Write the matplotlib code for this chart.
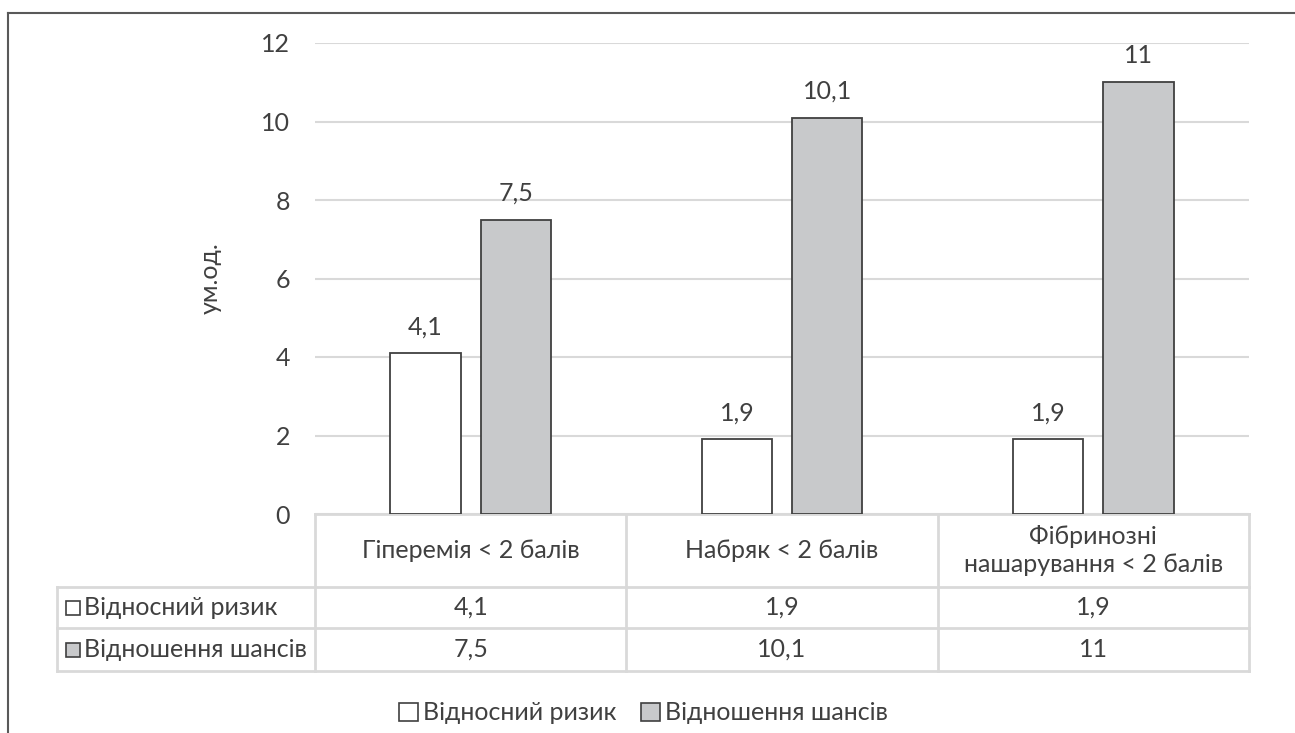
import matplotlib.pyplot as plt
from matplotlib.patches import Rectangle
from matplotlib.lines import Line2D
import numpy as np

categories = ['Гіперемія < 2 балів', 'Набряк < 2 балів', 'Фібринозні\nнашарування < 2 балів']
series_names = ['Відносний ризик', 'Відношення шансів']
rel_risk = [4.1, 1.9, 1.9]
odds_ratio = [7.5, 10.1, 11]
rel_risk_txt = ['4,1', '1,9', '1,9']
odds_ratio_txt = ['7,5', '10,1', '11']

plt.rcParams['font.family'] = ['Lato', 'DejaVu Sans']
txtcol = '#404040'
gridcol = '#d9d9d9'
graycol = '#c8c9cb'
fs = 18

fig = plt.figure(figsize=(12.95, 7.33), dpi=100)
ax = fig.add_axes([315/1295, 1-514/733, (1249-315)/1295, (514-43)/733])

x = np.arange(len(categories)) + 0.5
width = 0.225
off = 0.145
b1 = ax.bar(x - off, rel_risk, width, color='white', edgecolor=txtcol, linewidth=1.3, zorder=3)
b2 = ax.bar(x + off, odds_ratio, width, color=graycol, edgecolor=txtcol, linewidth=1.3, zorder=3)
for rect, t in zip(b1, rel_risk_txt):
    ax.annotate(t, (rect.get_x() + rect.get_width()/2, rect.get_height()), xytext=(0, 19),
                textcoords='offset points', ha='center', va='center', fontsize=fs, color=txtcol)
for rect, t in zip(b2, odds_ratio_txt):
    ax.annotate(t, (rect.get_x() + rect.get_width()/2, rect.get_height()), xytext=(0, 19),
                textcoords='offset points', ha='center', va='center', fontsize=fs, color=txtcol)

ax.set_xlim(0, 3)
ax.set_ylim(0, 12)
ax.set_yticks(np.arange(0, 13, 2))
ax.set_xticks([])
ax.yaxis.grid(True, color=gridcol, linewidth=1.5, zorder=0)
ax.tick_params(axis='y', length=0, pad=18, labelsize=fs, labelcolor=txtcol)
for s in ax.spines.values():
    s.set_visible(False)
ax.set_ylabel('ум.од.', fontsize=fs, color=txtcol, labelpad=28)

# data table under the chart
tr = ax.get_xaxis_transform()
h = 471.0  # axes height in px
rows_y = [0, -73/h, -114/h, -157/h]
left = -258/311
lk = dict(color=gridcol, linewidth=2, transform=tr, clip_on=False, zorder=1)
ax.add_line(Line2D([0, 3], [rows_y[0], rows_y[0]], **lk))
for yy in rows_y[1:]:
    ax.add_line(Line2D([left, 3], [yy, yy], **lk))
ax.add_line(Line2D([left, left], [rows_y[1], rows_y[3]], **lk))
for xx in range(4):
    ax.add_line(Line2D([xx, xx], [rows_y[0], rows_y[3]], **lk))

for i, c in enumerate(categories):
    ax.text(x[i], (rows_y[0] + rows_y[1]) / 2, c, transform=tr, ha='center', va='center',
            fontsize=fs, color=txtcol, linespacing=1.25)
    ax.text(x[i], (rows_y[1] + rows_y[2]) / 2, rel_risk_txt[i], transform=tr, ha='center',
            va='center', fontsize=fs, color=txtcol)
    ax.text(x[i], (rows_y[2] + rows_y[3]) / 2, odds_ratio_txt[i], transform=tr, ha='center',
            va='center', fontsize=fs, color=txtcol)

for j, (name, fc) in enumerate(zip(series_names, ['white', graycol])):
    yc = (rows_y[j+1] + rows_y[j+2]) / 2
    ax.add_patch(Rectangle((-249/311, yc - 7/h), 14/311, 14/h, transform=tr, clip_on=False,
                           facecolor=fc, edgecolor=txtcol, linewidth=1.2))
    ax.text(-231/311, yc, name, transform=tr, ha='left', va='center', fontsize=fs, color=txtcol)

# legend
fig.legend([Rectangle((0, 0), 1, 1, facecolor='white', edgecolor=txtcol, linewidth=1.2),
            Rectangle((0, 0), 1, 1, facecolor=graycol, edgecolor=txtcol, linewidth=1.2)],
           series_names, loc='center', bbox_to_anchor=(0.497, 1 - 713/733), ncol=2, frameon=False,
           fontsize=fs, labelcolor=txtcol, handlelength=0.75, handleheight=0.75,
           handletextpad=0.2, columnspacing=1.0)

# outer frame (only top and left visible)
fig.add_artist(Line2D([8/1295, 1], [1 - 13/733, 1 - 13/733], color='#595959', linewidth=1.5,
                      transform=fig.transFigure))
fig.add_artist(Line2D([8/1295, 8/1295], [0, 1 - 13/733], color='#595959', linewidth=1.5,
                      transform=fig.transFigure))

plt.savefig('out.png', dpi=100)
plt.close()
